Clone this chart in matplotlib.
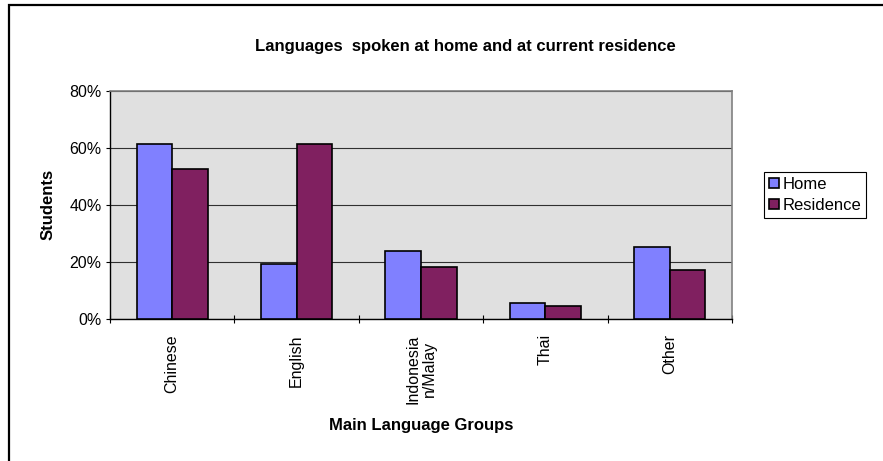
import matplotlib.pyplot as plt
import numpy as np
from matplotlib.lines import Line2D
from matplotlib.patches import Rectangle
from matplotlib.ticker import FuncFormatter, MultipleLocator

plt.rcParams["font.family"] = ["Liberation Sans", "DejaVu Sans"]

categories = ["Chinese", "English", "Indonesia\nn/Malay", "Thai", "Other"]
home = [61.4, 19.1, 23.8, 5.6, 25.1]
residence = [52.4, 61.4, 18.0, 4.3, 17.0]

HOME_COLOR = "#8080FF"
RES_COLOR = "#802060"

W, H = 883, 461
fig = plt.figure(figsize=(W / 100, H / 100), dpi=100)
fig.patch.set_facecolor("white")

# chart frame, open to the right and bottom edges
fig.add_artist(Line2D([9 / W, 9 / W, 1.0], [0.0, 1 - 5 / H, 1 - 5 / H],
                      transform=fig.transFigure, color="black", lw=1.6,
                      solid_joinstyle="miter"))

ax = fig.add_axes([110 / W, 1 - 318.5 / H, (732 - 110) / W, (318.5 - 91) / H])
ax.set_facecolor("#E0E0E0")

x = np.arange(len(categories))
bw = 1 / 3.5
ax.bar(x - bw / 2, home, bw, color=HOME_COLOR, edgecolor="black", lw=1.2,
       zorder=3, label="Home")
ax.bar(x + bw / 2, residence, bw, color=RES_COLOR, edgecolor="black", lw=1.2,
       zorder=3, label="Residence")

ax.set_xlim(-0.5, len(categories) - 0.5)
ax.set_ylim(0, 80)
ax.yaxis.set_major_locator(MultipleLocator(20))
ax.yaxis.set_major_formatter(FuncFormatter(lambda v, p: f"{v:.0f}%"))
ax.grid(axis="y", color="#303030", lw=0.8, zorder=1)

for side in ("top", "right"):
    ax.spines[side].set_color("#808080")
    ax.spines[side].set_linewidth(1.2)
for side in ("left", "bottom"):
    ax.spines[side].set_color("black")
    ax.spines[side].set_linewidth(1.0)

ax.tick_params(axis="y", direction="out", length=3, width=0.8,
               labelsize=11.5, pad=3)
ax.set_xticks(np.arange(len(categories) + 1) - 0.5)
ax.set_xticklabels([])
ax.tick_params(axis="x", direction="inout", length=6, width=0.8)
for i, name in enumerate(categories):
    ax.text(i, -5.5, name, rotation=90, ha="center", va="top",
            multialignment="center", fontsize=11.5, linespacing=1.15)

ax.set_ylabel("Students", fontsize=12, fontweight="bold", labelpad=10)
fig.text(421 / W, 1 - 425 / H, "Main Language Groups", ha="center",
         va="center", fontsize=12, fontweight="bold")
fig.text(465 / W, 1 - 47 / H, "Languages  spoken at home and at current residence",
         ha="center", va="center", fontsize=12, fontweight="bold")

handles = [Rectangle((0, 0), 1, 1, facecolor=HOME_COLOR, edgecolor="black", lw=1.2),
           Rectangle((0, 0), 1, 1, facecolor=RES_COLOR, edgecolor="black", lw=1.2)]
leg = fig.legend(handles, ["Home", "Residence"], loc="upper left",
                 bbox_to_anchor=(764 / W, 1 - 172 / H), fontsize=12,
                 handlelength=0.6, handleheight=0.6, handletextpad=0.2,
                 borderpad=0.3, labelspacing=0.35, borderaxespad=0,
                 fancybox=False, framealpha=1)
leg.get_frame().set_edgecolor("black")
leg.get_frame().set_linewidth(0.8)

fig.savefig("out.png", dpi=100)
